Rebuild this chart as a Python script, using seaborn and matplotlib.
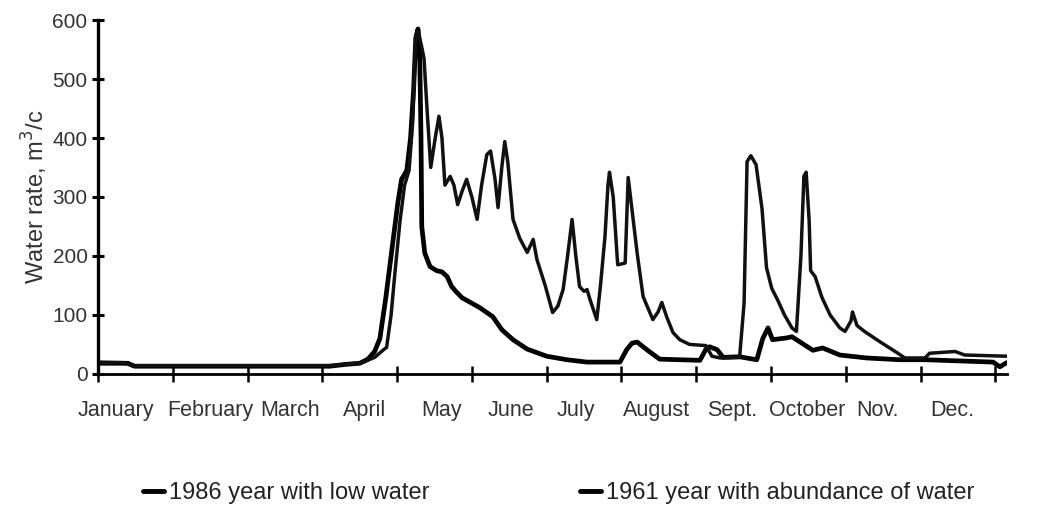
import matplotlib
matplotlib.use("Agg")
import matplotlib.pyplot as plt
import seaborn as sns
import pandas as pd

# ---- data (x in months from 1 January, y = water rate) ----
month_labels = ["January", "February", "March", "April", "May", "June",
                "July", "August", "Sept.", "October", "Nov.", "Dec."]
label_pos = [0.24, 1.50, 2.57, 3.56, 4.59, 5.52, 6.39, 7.47, 8.48, 9.48, 10.43, 11.43]

x_1986 = [0.00, 0.40, 0.49, 3.10, 3.30, 3.50, 3.61, 3.70, 3.77, 3.85,
          3.93, 4.01, 4.06, 4.13, 4.18, 4.22, 4.25, 4.28, 4.30, 4.32,
          4.33, 4.37, 4.44, 4.53, 4.60, 4.67, 4.73, 4.80, 4.87, 4.97,
          5.11, 5.20, 5.28, 5.40, 5.55, 5.74, 6.00, 6.27, 6.54, 6.98,
          7.07, 7.14, 7.21, 7.34, 7.51, 8.05, 8.13, 8.18, 8.28, 8.36,
          8.58, 8.81, 8.89, 8.96, 9.02, 9.21, 9.28, 9.39, 9.56, 9.69,
          9.92, 10.28, 10.72, 11.06, 11.97, 12.06, 12.15]
y_1986 = [18, 18, 13, 13, 16, 18, 25, 38, 60, 130,
          210, 290, 330, 345, 400, 480, 570, 585, 560, 400,
          250, 205, 182, 175, 173, 165, 148, 138, 129, 122,
          112, 104, 97, 75, 58, 42, 30, 24, 20, 20,
          41, 52, 54, 41, 25, 23, 42, 46, 41, 28,
          29, 24, 60, 78, 58, 61, 63, 54, 40, 44,
          32, 27, 24, 24, 20, 12, 19]

x_1961 = [0.00, 0.36, 0.45, 3.10, 3.30, 3.53, 3.70, 3.81, 3.86, 3.92,
          3.97, 4.04, 4.10, 4.16, 4.21, 4.25, 4.28, 4.32, 4.36, 4.40,
          4.45, 4.51, 4.56, 4.60, 4.64, 4.71, 4.76, 4.81, 4.87, 4.93,
          5.00, 5.07, 5.13, 5.20, 5.25, 5.31, 5.35, 5.40, 5.44, 5.48,
          5.55, 5.64, 5.74, 5.82, 5.87, 5.98, 6.08, 6.15, 6.22, 6.28,
          6.34, 6.39, 6.44, 6.50, 6.54, 6.58, 6.67, 6.72, 6.78, 6.82,
          6.84, 6.89, 6.95, 7.05, 7.09, 7.14, 7.21, 7.29, 7.42, 7.49,
          7.54, 7.61, 7.69, 7.78, 7.91, 8.13, 8.21, 8.32, 8.58, 8.64,
          8.68, 8.73, 8.80, 8.88, 8.94, 9.01, 9.09, 9.18, 9.28, 9.34,
          9.40, 9.44, 9.47, 9.51, 9.53, 9.59, 9.68, 9.79, 9.92, 9.99,
          10.07, 10.09, 10.15, 10.25, 10.45, 10.66, 10.79, 11.06, 11.12, 11.46,
          11.59, 12.15]
y_1961 = [20, 19, 14, 14, 16, 19, 28, 40, 45, 100,
          170, 260, 320, 345, 430, 575, 580, 560, 535, 450,
          350, 400, 437, 400, 320, 335, 320, 287, 310, 330,
          300, 262, 320, 372, 378, 330, 282, 350, 394, 360,
          262, 230, 206, 228, 194, 150, 104, 115, 143, 200,
          262, 200, 148, 140, 143, 126, 92, 150, 233, 320,
          342, 300, 185, 188, 333, 280, 205, 131, 92, 105,
          121, 95, 70, 58, 50, 48, 30, 27, 28, 120,
          360, 370, 355, 280, 180, 145, 125, 100, 78, 72,
          200, 335, 342, 260, 175, 165, 130, 100, 78, 72,
          90, 105, 82, 72, 55, 38, 27, 27, 35, 38,
          32, 30]

df86 = pd.DataFrame({"month": x_1986, "rate": y_1986})
df61 = pd.DataFrame({"month": x_1961, "rate": y_1961})

sns.set_theme(style="white")
plt.rcParams["font.family"] = ["Liberation Sans", "DejaVu Sans"]

fig = plt.figure(figsize=(10.42, 5.15), dpi=100)
ax = fig.add_axes([0.094, 0.274, 0.872, 0.687])

sns.lineplot(data=df86, x="month", y="rate", ax=ax, color="black", linewidth=3.4,
             estimator=None, sort=False, label="1986 year with low water")
sns.lineplot(data=df61, x="month", y="rate", ax=ax, color="#111111", linewidth=2.5,
             estimator=None, sort=False, label="1961 year with abundance of water")

ax.set_xlim(0, 12.15)
ax.set_ylim(0, 600)
ax.set_yticks([0, 100, 200, 300, 400, 500, 600])
ax.set_xticks(range(13))
ax.set_xticklabels([""] * 13)
ax.set_xticks(label_pos, minor=True)
ax.set_xticklabels(month_labels, minor=True)

for s in ["top", "right"]:
    ax.spines[s].set_visible(False)
ax.spines["left"].set_linewidth(2.4)
ax.spines["bottom"].set_linewidth(2.0)
ax.spines["left"].set_color("black")
ax.spines["bottom"].set_color("black")

ax.tick_params(axis="y", which="major", direction="inout", length=9, width=2.2,
               color="black", labelsize=15, labelcolor="#333333", pad=3, left=True)
ax.tick_params(axis="x", which="major", direction="inout", length=12, width=1.8,
               color="black", bottom=True)
ax.tick_params(axis="x", which="minor", length=0, labelsize=15.5,
               labelcolor="#333333", pad=19)

ax.set_xlabel("")
ax.set_ylabel("Water rate, m$^{3}$/c", fontsize=17, color="#333333", labelpad=2)

handles, labels = ax.get_legend_handles_labels()
if ax.legend_:
    ax.legend_.remove()
leg = fig.legend(handles, labels, loc="center", bbox_to_anchor=(0.536, 0.043),
                 ncol=2, frameon=False, fontsize=17, handlelength=0.9,
                 handletextpad=0.2, columnspacing=6.35)
for t in leg.get_texts():
    t.set_color("#222222")
for l in leg.get_lines():
    l.set_linewidth(3.5)
    l.set_color("black")

fig.savefig("out.png", dpi=100, facecolor="white")
